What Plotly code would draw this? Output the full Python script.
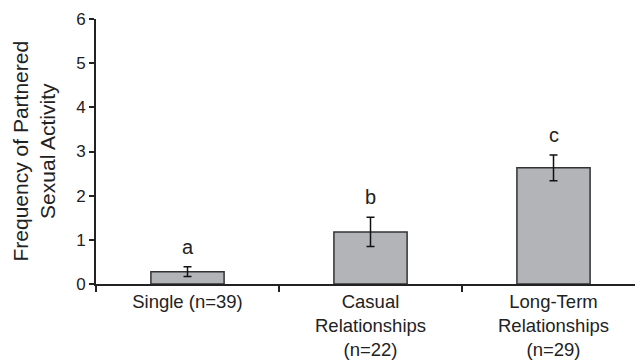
import plotly.graph_objects as go

categories = ["Single (n=39)", "Casual<br>Relationships<br>(n=22)", "Long-Term<br>Relationships<br>(n=29)"]
means = [0.28, 1.18, 2.63]
errors = [0.11, 0.33, 0.29]
sig_letters = ["a", "b", "c"]
y_ticks = [0, 1, 2, 3, 4, 5, 6]

FONT = "Liberation Sans, Arial, Helvetica, sans-serif"
INK = "#222222"

fig = go.Figure()
fig.add_trace(go.Bar(
    x=categories, y=means, width=0.4,
    marker=dict(color="#b3b4b7", line=dict(color="#333333", width=1.5)),
    error_y=dict(type="data", array=errors, visible=True, color="#111111", thickness=1.5, width=4),
    showlegend=False,
))

for c, m, e, s in zip(categories, means, errors, sig_letters):
    fig.add_annotation(x=c, y=m + e, text=s, showarrow=False, yanchor="bottom",
                       yshift=7, font=dict(family=FONT, size=20, color=INK))

fig.add_annotation(xref="paper", yref="paper", x=0, y=0.5, xshift=-63,
                   text="Frequency of Partnered<br>Sexual Activity", textangle=-90,
                   showarrow=False, xanchor="center", yanchor="middle",
                   font=dict(family=FONT, size=21, color=INK))

# page body has an 8px default margin, so the figure is sized to fill the rest of the window
fig.update_layout(
    width=635, height=353,
    margin=dict(l=88, r=0, t=11, b=77),
    paper_bgcolor="white", plot_bgcolor="white",
    font=dict(family=FONT, color=INK),
    bargap=0.6,
)
fig.update_xaxes(
    range=[-0.5, 2.489], showgrid=False, showline=True, linecolor=INK, linewidth=2,
    ticks="outside", tickson="boundaries", ticklen=6, tickwidth=1.5, tickcolor=INK,
    tickfont=dict(family=FONT, size=18.5, color=INK), fixedrange=True, automargin=False,
)
fig.update_yaxes(
    range=[0, 6], tickvals=y_ticks, showgrid=False, zeroline=False, showline=True,
    linecolor=INK, linewidth=2, ticks="outside", ticklen=5, tickwidth=1.5, tickcolor=INK,
    tickfont=dict(family=FONT, size=17, color=INK), fixedrange=True, automargin=False,
)

fig.write_html("out.html")
